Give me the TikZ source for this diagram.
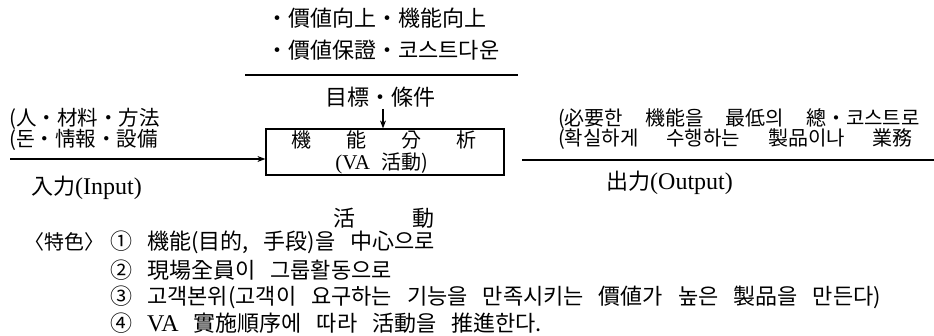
\documentclass[tikz,border=0pt]{standalone}
\usepackage{fontspec}
\setmainfont{Noto Sans CJK KR}
\newfontfamily\latf{Liberation Serif}
\usetikzlibrary{arrows.meta}
\newcommand\kfnt{\fontsize{22}{22}\selectfont\spaceskip 0.68em\relax}
\newcommand\kfntS{\fontsize{20}{20}\selectfont\spaceskip 0.6em\relax}
\newcommand\lt[1]{{\fontsize{24}{24}\selectfont\latf #1}}
\newcommand\ltS[1]{{\fontsize{21}{21}\selectfont\latf #1}}
\tikzset{
  txt/.style={inner sep=0pt, font=\kfnt},
  wtxt/.style={txt, anchor=west},
  stxt/.style={inner sep=0pt, font=\kfntS},
  wstxt/.style={stxt, anchor=west},
  ln/.style={line width=1.2pt},
  arr/.style={ln, -{Stealth[length=8pt,width=6pt]}},
  fbox/.style={draw, line width=1.2pt, minimum width=238pt, minimum height=46pt, inner sep=0pt},
}
\begin{document}
\begin{tikzpicture}[x=1pt,y=-1pt]
\useasboundingbox (0,0) rectangle (934,336);
% top goals
\node[wtxt] (t1) at (266,18) {・價値向上・機能向上};
\node[wtxt] (t2) at (266,50) {・價値保證・코스트다운};
\coordinate (tl) at (245,75);
\coordinate (tr) at (518,75);
\draw[ln] (tl) -- (tr);
\node[txt] (cond) at (380,97) {目標・條件};
% box
\node[fbox] (fa) at (385,152) {};
\node[stxt] (fa1) at (384,140) {機\hspace{1.75em}能\hspace{1.75em}分\hspace{1.75em}析};
\node[stxt] (fa2) at (382,163) {\ltS{(VA} 活動)};
\coordinate (ca) at (383,109);
\draw[arr] (ca) -- (ca |- fa.north);
\node[txt] (act) at (384,218) {活\hspace{2.55em}動};
% input
\node[wstxt, font=\fontsize{20.5}{20.5}\selectfont] (in1) at (9,119) {(人・材料・方法};
\node[wstxt, font=\fontsize{20.5}{20.5}\selectfont] (in2) at (9,140) {(돈・情報・設備};
\coordinate (inS) at (10,159);
\draw[arr] (inS) -- (inS -| fa.west);
\node[wtxt] (inl) at (31,188) {入力\lt{(Input)}};
% output
\node[wstxt, font={\kfntS\spaceskip 1.1em\relax}] (out1) at (558,119) {(必要한 機能을 最低의 總・코스트로};
\node[wstxt, font={\kfntS\spaceskip 1.4em\relax}] (out2) at (558,139) {(확실하게 수행하는 製品이나 業務};
\coordinate (outS) at (522,160);
\coordinate (outE) at (934,160);
\draw[ln] (outS) -- (outE);
\node[wtxt] (outl) at (606,183) {出力\lt{(Output)}};
% features
\node[wstxt] (feat) at (24,242) {〈特色〉};
\node[wtxt] (f1) at (110,242) {① 機能(目的, 手段)을 中心으로};
\node[wtxt] (f2) at (110,270) {② 現場全員이 그룹활동으로};
\node[wtxt] (f3) at (110,297) {③ 고객본위(고객이 요구하는 기능을 만족시키는 價値가 높은 製品을 만든다)};
\node[wtxt] (f4) at (110,323) {④ \lt{VA} 實施順序에 따라 活動을 推進한다.};
\end{tikzpicture}
\end{document}
